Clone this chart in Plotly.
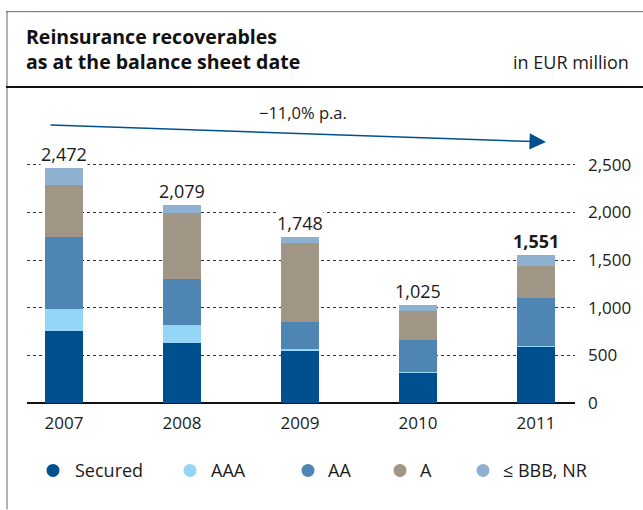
import plotly.graph_objects as go

# Reinsurance recoverables by rating class, EUR million
years = ["2007", "2008", "2009", "2010", "2011"]
secured = [760, 634, 550, 323, 595]
aaa = [230, 189, 21, 6, 6]
aa = [755, 482, 283, 336, 504]
a_rated = [545, 692, 828, 297, 336]
bbb_nr = [182, 82, 66, 63, 110]
totals = [2472, 2079, 1748, 1025, 1551]
y_ticks = [0, 500, 1000, 1500, 2000, 2500]
y_tick_text = ["0", "500", "1,000", "1,500", "2,000", "2,500"]
trend_label = "\u221211,0% p.a."

series = [
    ("Secured", secured, "#00508f"),
    ("AAA", aaa, "#95d5f5"),
    ("AA", aa, "#4e85b3"),
    ("A", a_rated, "#a19686"),
    ("\u2264 BBB, NR", bbb_nr, "#8fb1d1"),
]

FONT = "Open Sans"
W, H = 643, 510
ML, MR, MT, MB = 27, 68, 100, 106.5
PW, PH = W - ML - MR, H - MT - MB


def px(x):
    return (x - ML) / PW


def py(y):
    return (H - MB - y) / PH


xs = list(range(len(years)))
fig = go.Figure()
for name, vals, col in series:
    fig.add_trace(go.Bar(x=xs, y=vals, name=name, marker=dict(color=col, line=dict(width=0)),
                         width=0.322, showlegend=False, hoverinfo="skip"))

# total labels above each stack
for i, t in enumerate(totals):
    txt = f"{t:,}"
    if i == len(totals) - 1:
        txt = f"<b>{txt}</b>"
    fig.add_annotation(x=xs[i], y=t, text=txt, showarrow=False, yanchor="bottom", yshift=1,
                       font=dict(family=FONT, size=18, color="#1a1a1a"), bgcolor="white",
                       borderpad=0)

# trend arrow
fig.add_annotation(x=4.085, y=2741, ax=-0.127, ay=2919, axref="x", ayref="y", xref="x", yref="y",
                   text="", showarrow=True, arrowhead=2, arrowsize=2.2, arrowwidth=1.5,
                   arrowcolor="#00508f")
fig.add_annotation(x=px(303), y=py(113), xref="paper", yref="paper", text=trend_label,
                   showarrow=False, xanchor="center", yanchor="middle",
                   font=dict(family=FONT, size=16.5, color="#1a1a1a"))

# header
fig.add_annotation(x=px(24), y=py(49), xref="paper", yref="paper",
                   text="<b>Reinsurance recoverables<br>as at the balance sheet date</b>",
                   showarrow=False, xanchor="left", yanchor="middle", align="left",
                   font=dict(family=FONT, size=19.5, color="#111111"))
fig.add_annotation(x=px(631), y=py(62), xref="paper", yref="paper", text="in EUR million",
                   showarrow=False, xanchor="right", yanchor="middle",
                   font=dict(family=FONT, size=18, color="#1a1a1a"))

# frame lines
fig.add_shape(type="line", xref="paper", yref="paper", x0=px(6), x1=px(643), y0=py(11.5), y1=py(11.5),
              line=dict(color="#666666", width=1))
fig.add_shape(type="line", xref="paper", yref="paper", x0=px(7), x1=px(7), y0=py(11), y1=py(510),
              line=dict(color="#666666", width=1))
fig.add_shape(type="line", xref="paper", yref="paper", x0=px(6), x1=px(643), y0=py(87), y1=py(87),
              line=dict(color="#111111", width=2))

# legend
legend_items = [(53, 73), (190, 209), (308, 326), (400, 418), (483, 501)]
for (mx, tx), (name, _, col) in zip(legend_items, series):
    r = 6.5
    fig.add_shape(type="circle", xref="paper", yref="paper", x0=px(mx - r), x1=px(mx + r),
                  y0=py(471 + r), y1=py(471 - r), fillcolor=col, line=dict(width=0))
    fig.add_annotation(x=px(tx), y=py(471), xref="paper", yref="paper", text=name, showarrow=False,
                       xanchor="left", yanchor="middle", font=dict(family=FONT, size=18, color="#1a1a1a"))

fig.update_layout(
    width=W, height=H, margin=dict(l=ML, r=MR, t=MT, b=MB), barmode="stack",
    paper_bgcolor="white", plot_bgcolor="white", showlegend=False, bargap=0,
    font=dict(family=FONT, size=17, color="#1a1a1a"),
)
fig.update_xaxes(range=[-0.3136, 4.3305], tickvals=xs, ticktext=years, showgrid=False,
                 showline=False, zeroline=False, ticks="", ticklabelstandoff=8,
                 tickfont=dict(family=FONT, size=17, color="#1a1a1a"), fixedrange=True)
fig.update_yaxes(range=[0, 2500 * PH / 238.5], side="right", tickvals=y_ticks, ticktext=y_tick_text,
                 showgrid=True, gridcolor="#333333", griddash="dot", gridwidth=1,
                 zeroline=True, zerolinecolor="#111111", zerolinewidth=1.5,
                 showline=False, ticks="", ticklabelstandoff=12,
                 tickfont=dict(family=FONT, size=17, color="#1a1a1a"), fixedrange=True)

fig.write_html("out.html")
